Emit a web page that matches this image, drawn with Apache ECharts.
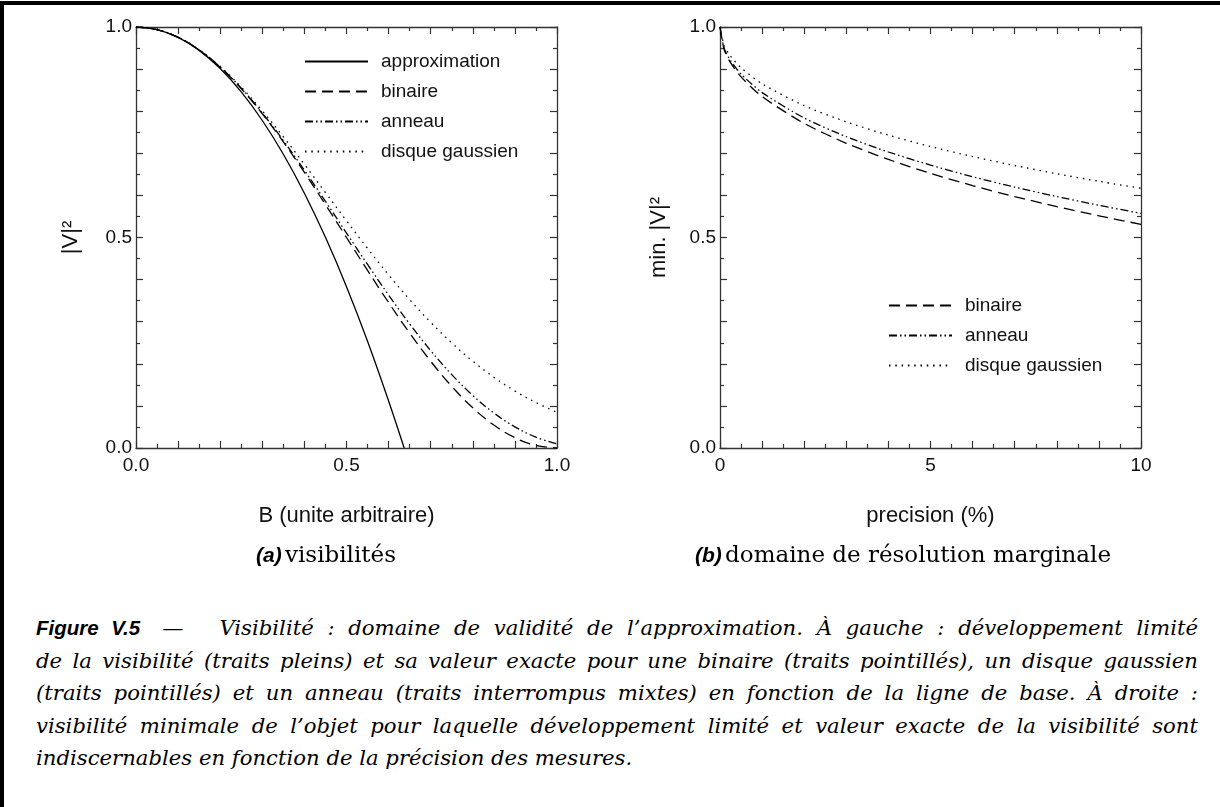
<!DOCTYPE html>
<html>
<head>
<meta charset="utf-8">
<script src="https://cdn.jsdelivr.net/npm/echarts/dist/echarts.min.js"></script>
<style>
  html, body { margin: 0; padding: 0; background: #fff; }
  body { width: 1220px; height: 807px; position: relative; overflow: hidden; }
  #frame { position: absolute; left: 0; top: 1px; width: 1220px; height: 806px;
           border-left: 4px solid #000; border-top: 4px solid #000; box-sizing: border-box; }
  #chart { position: absolute; left: 0; top: 0; width: 1220px; height: 600px; }
  #caption { position: absolute; left: 36px; top: 612px; width: 1162px;
             font-family: "DejaVu Serif", serif; font-style: italic; font-size: 21.2px;
             line-height: 32.5px; color: #000; }
  #caption .ln { text-align: justify; text-align-last: justify; }
  #caption .ln.last { text-align-last: left; }
  #caption .fig { font-family: "Liberation Sans", Arial, sans-serif; font-weight: bold; font-style: italic; font-size: 20.5px; }
  #caption .dash { font-style: normal; margin: 0 36px 0 22px; }
</style>
</head>
<body>
<div id="frame"></div>
<div id="chart"></div>
<div id="caption">
  <div class="ln"><span class="fig">Figure V.5</span><span class="dash">—</span>Visibilité : domaine de validité de l’approximation. À gauche : développement limité</div>
  <div class="ln">de la visibilité (traits pleins) et sa valeur exacte pour une binaire (traits pointillés), un disque gaussien</div>
  <div class="ln">(traits pointillés) et un anneau (traits interrompus mixtes) en fonction de la ligne de base. À droite :</div>
  <div class="ln">visibilité minimale de l’objet pour laquelle développement limité et valeur exacte de la visibilité sont</div>
  <div class="ln last">indiscernables en fonction de la précision des mesures.</div>
</div>
<script>
// ---- (a) visibilities versus baseline B ----
const baseline = [0, 0.05, 0.1, 0.15, 0.2, 0.25, 0.3, 0.35, 0.4, 0.45, 0.5,
                  0.55, 0.6, 0.65, 0.7, 0.75, 0.8, 0.85, 0.9, 0.95, 1.0];
const approxBaseline = [0, 0.05, 0.1, 0.15, 0.2, 0.25, 0.3, 0.35, 0.4, 0.45, 0.5, 0.55, 0.6, 0.637];
const approximation = [1, 0.9938, 0.9753, 0.9445, 0.9013, 0.8458, 0.7779, 0.6977, 0.6052,
                       0.5004, 0.3832, 0.2536, 0.1117, 0];
const binaireA = [1, 0.9938, 0.9755, 0.9455, 0.9045, 0.8536, 0.7939, 0.7270, 0.6545, 0.5782, 0.5,
                  0.4218, 0.3455, 0.2730, 0.2061, 0.1464, 0.0955, 0.0545, 0.0245, 0.0062, 0];
const anneauA = [1, 0.9939, 0.9756, 0.9456, 0.9049, 0.8545, 0.7957, 0.7302, 0.6596, 0.5858, 0.5106,
                 0.4359, 0.3634, 0.2947, 0.2313, 0.1744, 0.1248, 0.0833, 0.0503, 0.0258, 0.0097];
const gaussA = [1, 0.9939, 0.9756, 0.9460, 0.9060, 0.8571, 0.8009, 0.7392, 0.6739, 0.6067, 0.5397,
                0.4741, 0.4114, 0.3526, 0.2985, 0.2496, 0.2062, 0.1682, 0.1355, 0.1079, 0.0848];

// ---- (b) minimum |V|^2 versus measurement precision (%) ----
const precision = [0, 0.1, 0.25, 0.5, 1, 2, 3, 4, 5, 6, 7, 8, 9, 10];
const binaireB = [1, 0.9461, 0.9154, 0.8815, 0.8348, 0.7710, 0.7238, 0.6854, 0.6523, 0.6233,
                  0.5972, 0.5734, 0.5515, 0.5312];
const anneauB = [1, 0.9491, 0.9202, 0.8883, 0.8442, 0.7840, 0.7395, 0.7031, 0.6719, 0.6444,
                 0.6197, 0.5972, 0.5765, 0.5573];
const gaussB = [1, 0.9559, 0.9309, 0.9033, 0.8652, 0.8131, 0.7747, 0.7432, 0.7160, 0.6923,
                0.6710, 0.6514, 0.6335, 0.6168];

const namesA = ['approximation', 'binaire', 'anneau', 'disque gaussien'];
const namesB = ['binaire', 'anneau', 'disque gaussien'];

const SANS = '"Liberation Sans", Arial, sans-serif';
const SERIF = '"DejaVu Serif", serif';
const INK = '#111';
const AXIS = '#333';

const dashes = {
  'approximation': 'solid',
  'binaire': [11, 6],
  'anneau': [8, 3, 1.5, 3, 1.5, 3],
  'disque gaussien': [1.5, 4.8]
};

function pairs(xs, ys) { return xs.map((x, i) => [x, ys[i]]); }

function fmtHalf(v) {
  return Math.abs(v * 2 - Math.round(v * 2)) < 1e-6 ? v.toFixed(1) : '';
}
function fmtFive(v) {
  return Math.abs(v / 5 - Math.round(v / 5)) < 1e-6 ? String(Math.round(v)) : '';
}

function axis(opts) {
  const base = {
    type: 'value',
    axisLine: { show: true, onZero: false, lineStyle: { color: AXIS, width: 1.3 } },
    axisTick: { show: true, inside: true, length: 7, lineStyle: { color: AXIS, width: 1.2 } },
    minorTick: { show: true, splitNumber: 2, length: 4, lineStyle: { color: AXIS, width: 1.2 } },
    splitLine: { show: false },
    minorSplitLine: { show: false },
    axisLabel: { show: false }
  };
  return Object.assign(base, opts);
}

const labelStyle = { color: INK, fontFamily: SANS, fontSize: 19 };
const nameStyle = { color: INK, fontFamily: SANS, fontSize: 22 };

const xAxes = [
  axis({ gridIndex: 0, position: 'bottom', min: 0, max: 1, interval: 0.1,
         axisLabel: Object.assign({ show: true, margin: 8, formatter: fmtHalf }, labelStyle),
         name: 'B (unite arbitraire)', nameLocation: 'middle', nameGap: 57, nameTextStyle: nameStyle }),
  axis({ gridIndex: 0, position: 'top', min: 0, max: 1, interval: 0.1 }),
  axis({ gridIndex: 1, position: 'bottom', min: 0, max: 10, interval: 1,
         axisLabel: Object.assign({ show: true, margin: 8, formatter: fmtFive }, labelStyle),
         name: 'precision (%)', nameLocation: 'middle', nameGap: 57, nameTextStyle: nameStyle }),
  axis({ gridIndex: 1, position: 'top', min: 0, max: 10, interval: 1 })
];
const yAxes = [
  axis({ gridIndex: 0, position: 'left', min: 0, max: 1, interval: 0.1,
         axisLabel: Object.assign({ show: true, margin: 4, formatter: fmtHalf }, labelStyle),
         name: '|V|²', nameLocation: 'middle', nameRotate: 90, nameGap: 54, nameTextStyle: nameStyle }),
  axis({ gridIndex: 0, position: 'right', min: 0, max: 1, interval: 0.1 }),
  axis({ gridIndex: 1, position: 'left', min: 0, max: 1, interval: 0.1,
         axisLabel: Object.assign({ show: true, margin: 4, formatter: fmtHalf }, labelStyle),
         name: 'min. |V|²', nameLocation: 'middle', nameRotate: 90, nameGap: 50, nameTextStyle: nameStyle }),
  axis({ gridIndex: 1, position: 'right', min: 0, max: 1, interval: 0.1 })
];

function lineSeries(name, data, axisIdx, smooth) {
  return {
    type: 'line', name: name, data: data,
    xAxisIndex: axisIdx, yAxisIndex: axisIdx,
    showSymbol: false, symbol: 'none',
    smooth: smooth,
    clip: true, silent: true,
    lineStyle: { color: '#000', width: 1.3, type: dashes[name] },
    itemStyle: { color: '#000' }
  };
}

const series = [
  lineSeries('approximation', pairs(approxBaseline, approximation), 0, 0.4),
  lineSeries('binaire', pairs(baseline, binaireA), 0, 0.4),
  lineSeries('anneau', pairs(baseline, anneauA), 0, 0.4),
  lineSeries('disque gaussien', pairs(baseline, gaussA), 0, 0.4),
  lineSeries('binaire', pairs(precision, binaireB), 2, 0.25),
  lineSeries('anneau', pairs(precision, anneauB), 2, 0.25),
  lineSeries('disque gaussien', pairs(precision, gaussB), 2, 0.25)
];

function legend(names, left, top) {
  return {
    data: names, orient: 'vertical', left: left, top: top,
    itemWidth: 63, itemHeight: 14, itemGap: -3,
    selectedMode: false,
    itemStyle: { opacity: 0 },
    textStyle: { color: INK, fontFamily: SANS, fontSize: 19, lineHeight: 19, padding: [0, 0, 14, 8] }
  };
}

const subcaptionRich = {
  a: { fontFamily: SANS, fontWeight: 'bold', fontStyle: 'italic', fontSize: 21, color: '#000' },
  b: { fontFamily: SERIF, fontSize: 23, color: '#000' }
};

const chart = echarts.init(document.getElementById('chart'), null, { renderer: 'canvas' });
chart.setOption({
  animation: false,
  backgroundColor: 'transparent',
  grid: [
    { left: 136, top: 27, width: 421, height: 421, containLabel: false, outerBoundsMode: 'none' },
    { left: 720, top: 27, width: 421, height: 421, containLabel: false, outerBoundsMode: 'none' }
  ],
  xAxis: xAxes,
  yAxis: yAxes,
  legend: [legend(namesA, 299, 40), legend(namesB, 883, 284)],
  series: series,
  graphic: [
    { type: 'text', x: 326, y: 556,
      style: { text: '{a|(a)} {b|visibilités}', rich: subcaptionRich, align: 'center', verticalAlign: 'middle' } },
    { type: 'text', x: 903, y: 556,
      style: { text: '{a|(b)} {b|domaine de résolution marginale}', rich: subcaptionRich, align: 'center', verticalAlign: 'middle' } }
  ]
});
</script>
</body>
</html>
